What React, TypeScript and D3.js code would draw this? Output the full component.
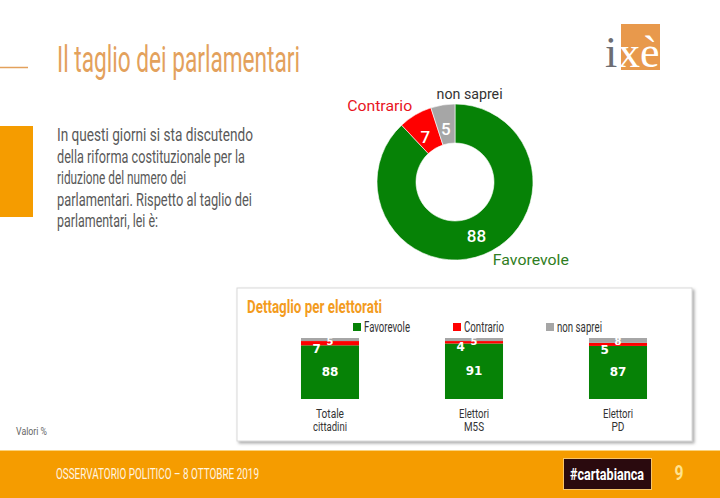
import React from "react";
import * as d3 from "d3";

const donutLabels = ["Favorevole", "Contrario", "non saprei"];
const donutValues = [88, 7, 5];
const seriesColors = ["#068206", "#ff0000", "#a6a6a6"];

const groupLines = [["Totale", "cittadini"], ["Elettori", "M5S"], ["Elettori", "PD"]];
const groupNames = ["Totale cittadini", "Elettori M5S", "Elettori PD"];
const favorevole = [88, 91, 87];
const contrario = [7, 4, 5];
const nonSaprei = [5, 5, 8];

const paragraph = [
  "In questi giorni si sta discutendo",
  "della riforma costituzionale per la",
  "riduzione del numero dei",
  "parlamentari. Rispetto al taglio dei",
  "parlamentari, lei è:",
];
const paragraphWidths = [196, 188, 129, 195, 101];

const COND = "Roboto, 'Noto Sans', sans-serif";

export default function App() {
  const W = 720, H = 498;
  // Donut
  const cx = 455, cy = 182, R = 78, r = 39;
  const pie = d3.pie<number>().sort(null).value((d) => d);
  const arcs = pie(donutValues);
  const arc = d3.arc<d3.PieArcDatum<number>>().innerRadius(r).outerRadius(R);
  const labelArc = d3.arc<d3.PieArcDatum<number>>().innerRadius(R + 14).outerRadius(R + 14);
  const outerOffsets: [number, number, string][] = [
    [4, -8, "start"],
    [4, 3, "end"],
    [-4, 3, "start"],
  ];
  const outerColors = ["#2f7d22", "#e8141e", "#333333"];
  const outerWidths = [76, 65, 66];

  // Bars
  const x = d3.scaleBand<string>().domain(groupNames).range([258, 690]).paddingInner(0.597).paddingOuter(0.2985);
  const y = d3.scaleLinear().domain([0, 100]).range([399, 338]);
  const stackData = groupNames.map((g, i) => ({ g, fav: favorevole[i], con: contrario[i], ns: nonSaprei[i] }));
  const stack = d3.stack<any>().keys(["fav", "con", "ns"])(stackData);

  const legendX = [353, 453, 546];
  const legendW = [46, 40, 45];
  const catW = [[28, 34], [30, 20], [30, 13]];

  return (
    <svg width={W} height={H} style={{ position: "absolute", left: 0, top: 0, background: "#fff" }}>
      <defs>
        <filter id="sh" x="-5%" y="-5%" width="115%" height="120%">
          <feDropShadow dx="2" dy="2" stdDeviation="1.5" floodColor="#888" floodOpacity="0.7" />
        </filter>
      </defs>
      {/* Header */}
      <line x1={0} x2={28} y1={67.5} y2={67.5} stroke="#e3a15c" strokeWidth={1.5} />
      <text x={57} y={72} fontFamily={COND} fontSize={37} fill="#e3a15c" textLength={243} lengthAdjust="spacingAndGlyphs">
        Il taglio dei parlamentari
      </text>
      {/* Logo */}
      <rect x={621} y={24} width={39} height={46} fill="#e8994c" />
      <text x={605} y={67} fontFamily="'Liberation Serif', serif" fontSize={44} fill="#6d6d72">i</text>
      <text x={618} y={67} fontFamily="'Liberation Serif', serif" fontSize={44} fill="#ffffff">xè</text>

      {/* Left block and paragraph */}
      <rect x={0} y={126} width={33} height={91} fill="#f59c00" />
      {paragraph.map((t, i) => (
        <text key={i} x={57} y={141 + i * 21.5} fontFamily={COND} fontSize={19} fill="#595959"
          textLength={paragraphWidths[i]} lengthAdjust="spacingAndGlyphs">{t}</text>
      ))}

      {/* Donut */}
      <g transform={`translate(${cx},${cy})`}>
        {arcs.map((a, i) => (
          <path key={i} d={arc(a) as string} fill={seriesColors[i]} stroke="#fff" strokeWidth={0.6} />
        ))}
        {arcs.map((a, i) => {
          const [px, py] = arc.centroid(a);
          return (
            <text key={"v" + i} x={px} y={py + (i === 0 ? 0 : 5)} textAnchor="middle" dominantBaseline="central"
              fontFamily="Roboto, sans-serif" fontWeight={500} fontSize={17} fill="#fff">{donutValues[i]}</text>
          );
        })}
        {arcs.map((a, i) => {
          const [px, py] = labelArc.centroid(a);
          const [dx, dy, anchor] = outerOffsets[i];
          return (
            <text key={"l" + i} x={px + dx} y={py + dy} textAnchor={anchor as any} dominantBaseline="central"
              fontFamily="Roboto, sans-serif" fontSize={14} fill={outerColors[i]}
              textLength={outerWidths[i]} lengthAdjust="spacingAndGlyphs">{donutLabels[i]}</text>
          );
        })}
      </g>

      {/* Detail panel */}
      <rect x={237} y={288} width={455} height={153} fill="#fff" stroke="#d9d9d9" strokeWidth={1} filter="url(#sh)" />
      <text x={247} y={313} fontFamily={COND} fontWeight={700} fontSize={19} fill="#f39c1f" textLength={135} lengthAdjust="spacingAndGlyphs">
        Dettaglio per elettorati
      </text>
      {donutLabels.map((l, i) => (
        <g key={l}>
          <rect x={legendX[i]} y={323} width={8} height={8} fill={seriesColors[i]} />
          <text x={legendX[i] + 11} y={327} dominantBaseline="central" fontFamily={COND} fontSize={15} fill="#333"
            textLength={legendW[i]} lengthAdjust="spacingAndGlyphs">{l}</text>
        </g>
      ))}
      {stack.map((layer, li) => (
        <g key={li} fill={seriesColors[li]}>
          {layer.map((d: any, i: number) => (
            <rect key={i} x={x(groupNames[i])} y={y(d[1])} width={x.bandwidth()} height={y(d[0]) - y(d[1])} />
          ))}
        </g>
      ))}
      {groupNames.map((g, i) => {
        const bx = x(g) as number;
        const bw = x.bandwidth();
        return (
          <g key={g} fontFamily="'DejaVu Sans', sans-serif" fontWeight={700} fill="#fff">
            <text x={bx + bw / 2} y={y(favorevole[i] / 2)} textAnchor="middle" dominantBaseline="central" fontSize={12}>
              {favorevole[i]}
            </text>
            <text x={bx + bw * 0.27} y={y(favorevole[i]) + 4} textAnchor="middle" dominantBaseline="central" fontSize={12}>
              {contrario[i]}
            </text>
            <text x={bx + bw / 2} y={y(100) + 3} textAnchor="middle" dominantBaseline="central" fontSize={10}>
              {nonSaprei[i]}
            </text>
            {groupLines[i].map((t, k) => (
              <text key={k} x={bx + bw / 2} y={414 + k * 13} textAnchor="middle" dominantBaseline="central"
                fontFamily={COND} fontWeight={400} fontSize={12} fill="#333"
                textLength={catW[i][k]} lengthAdjust="spacingAndGlyphs">
                {t}
              </text>
            ))}
          </g>
        );
      })}

      <text x={16} y={435} fontFamily={COND} fontSize={11.5} fill="#666" textLength={31} lengthAdjust="spacingAndGlyphs">Valori %</text>

      {/* Footer */}
      <rect x={0} y={450} width={W} height={48} fill="#f59c00" />
      <line x1={0} x2={W} y1={450.5} y2={450.5} stroke="#fbd27a" strokeWidth={1} />
      <text x={56} y={474} dominantBaseline="central" fontFamily={COND} fontSize={15} fill="#fff4e0" textLength={203} lengthAdjust="spacingAndGlyphs">
        OSSERVATORIO POLITICO – 8 OTTOBRE 2019
      </text>
      <rect x={563.5} y={458.5} width={88} height={31} fill="#2a0a0e" stroke="#f7c56a" strokeWidth={1} />
      <text x={607} y={474} textAnchor="middle" dominantBaseline="central" fontFamily={COND} fontWeight={700} fontSize={17} fill="#fff"
        textLength={74} lengthAdjust="spacingAndGlyphs">#cartabianca</text>
      <text x={679} y={473} textAnchor="middle" dominantBaseline="central" fontFamily={COND} fontWeight={700} fontSize={21} fill="#ffe38f"
        textLength={9} lengthAdjust="spacingAndGlyphs">9</text>
    </svg>
  );
}
